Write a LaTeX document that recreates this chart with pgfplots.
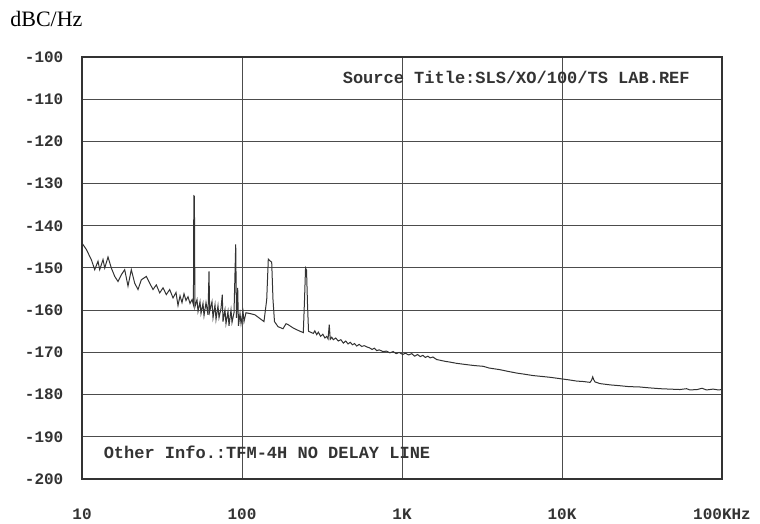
\documentclass[border=0pt]{standalone}
\usepackage{pgfplots}
\pgfplotsset{compat=1.18}
\usepackage{fontspec}
\setmainfont{Liberation Serif}
\newfontfamily\mono{Liberation Mono}
\begin{document}
\begin{tikzpicture}
\begin{axis}[
  scale only axis,
  width=320pt, height=211pt,
  xmode=log,
  xmin=10, xmax=100000,
  ymin=-200, ymax=-100,
  xtick={10,100,1000,10000,100000},
  xticklabels={10,100,1K,10K,100KHz},
  ytick={-200,-190,-180,-170,-160,-150,-140,-130,-120,-110,-100},
  yticklabels={-200,-190,-180,-170,-160,-150,-140,-130,-120,-110,-100},
  xminorticks=false,
  yminorticks=false,
  major tick length=0pt,
  grid=major,
  major grid style={black!70, line width=0.5pt},
  axis line style={black!80, line width=0.6pt},
  tick label style={font=\mono\bfseries\fontsize{8}{9}\selectfont, text=black!80},
  xticklabel style={yshift=-11.5pt},
  yticklabel style={xshift=-5.8pt},
  clip=false,
]
\addplot[black!80, line width=0.5pt] table[row sep=\\] {
x y\\
10 -144.1\\
10.64 -145.6\\
11.43 -148.0\\
12.01 -150.4\\
12.59 -148.4\\
12.90 -150.4\\
13.53 -148.0\\
13.87 -150.0\\
14.54 -147.4\\
15.25 -150.0\\
16.02 -152.0\\
16.79 -153.2\\
17.61 -151.6\\
18.49 -150.4\\
19.39 -154.3\\
20.33 -150.4\\
21.35 -153.6\\
22.39 -155.1\\
23.48 -152.8\\
25.23 -152.0\\
26.49 -153.6\\
27.79 -155.1\\
29.14 -154.0\\
30.59 -155.9\\
32.09 -154.7\\
33.65 -156.3\\
35.33 -155.1\\
37.06 -157.1\\
38.69 -155.8\\
39.81 -158.9\\
40.98 -156.6\\
42.17 -158.2\\
43.40 -156.1\\
44.67 -157.7\\
45.97 -156.8\\
47.32 -158.4\\
48.70 -157.5\\
49.7 -158.7\\
50.0 -132.9\\
50.4 -133.0\\
50.8 -159.2\\
52.34 -157.5\\
53.09 -160.3\\
54.64 -158.0\\
55.43 -160.8\\
57.05 -158.4\\
57.88 -161.3\\
59.57 -158.2\\
61.31 -161.1\\
62.2 -150.8\\
62.8 -160.3\\
64.94 -158.0\\
65.89 -161.8\\
67.81 -158.7\\
68.79 -162.2\\
70.79 -158.9\\
71.83 -161.8\\
73.92 -159.6\\
75.31 -156.3\\
76.07 -162.7\\
78.30 -159.9\\
79.43 -163.2\\
81.75 -160.3\\
82.95 -163.7\\
85.36 -159.9\\
86.60 -162.9\\
89.13 -160.6\\
91.34 -144.4\\
92.37 -161.8\\
93.98 -154.7\\
95.08 -163.7\\
97.16 -160.8\\
98.58 -163.2\\
101.45 -160.3\\
102.92 -162.7\\
105.9 -160.6\\
112.2 -160.8\\
120.6 -161.1\\
129.6 -162.0\\
137.2 -162.7\\
142.7 -157.5\\
146.0 -147.9\\
149.6 -148.3\\
153.3 -148.6\\
156.2 -157.5\\
159.6 -162.7\\
167.9 -163.9\\
180.4 -164.4\\
188.4 -163.2\\
193.9 -163.4\\
208.4 -164.2\\
230.5 -165.0\\
241.6 -165.3\\
245.9 -157.5\\
249.5 -150.0\\
253.1 -150.5\\
256.8 -158.9\\
260.5 -165.0\\
279 -165.5\\
285 -164.9\\
293 -165.8\\
300 -165.2\\
310 -166.2\\
320 -165.7\\
330 -166.6\\
338 -166.2\\
345 -166.8\\
351 -163.4\\
356 -166.9\\
364 -166.4\\
372 -167.0\\
385 -166.6\\
400 -167.3\\
415 -167.0\\
430 -167.8\\
445 -167.3\\
460 -168.0\\
475 -167.6\\
490 -168.2\\
505 -167.9\\
521 -168.5\\
540 -168.1\\
560 -168.6\\
580 -168.4\\
602 -168.7\\
625 -168.9\\
650 -169.3\\
672 -169.0\\
695 -169.6\\
720 -169.4\\
760 -169.8\\
800 -169.7\\
841 -170.1\\
880 -169.8\\
920 -170.3\\
960 -170.0\\
1010 -170.5\\
1050 -170.2\\
1100 -170.6\\
1150 -170.3\\
1200 -170.9\\
1250 -170.5\\
1300 -171.0\\
1350 -170.7\\
1400 -171.2\\
1450 -170.9\\
1500 -171.3\\
1560 -171.1\\
1648 -171.7\\
1750 -171.9\\
1850 -172.1\\
1995 -172.3\\
2200 -172.6\\
2537 -172.9\\
2800 -173.1\\
3222 -173.3\\
3500 -173.7\\
4098 -174.1\\
4600 -174.5\\
5213 -174.9\\
5900 -175.2\\
6616 -175.5\\
7500 -175.7\\
8414 -175.9\\
9200 -176.1\\
10040 -176.3\\
11000 -176.5\\
12360 -176.8\\
13600 -176.9\\
14960 -177.1\\
15300 -176.6\\
15560 -175.8\\
15800 -176.5\\
16080 -177.0\\
17280 -177.4\\
20000 -177.7\\
23040 -177.9\\
26000 -178.1\\
30720 -178.2\\
35000 -178.4\\
40980 -178.6\\
47000 -178.7\\
54640 -178.8\\
60000 -178.6\\
63000 -178.9\\
70000 -178.8\\
75000 -178.5\\
80000 -178.9\\
88000 -178.7\\
95000 -178.9\\
100000 -178.8\\
};
\node[anchor=east, font=\mono\bfseries\fontsize{8.5}{10}\selectfont, text=black!80] at (rel axis cs:0.9605,0.9514) {Source Title:SLS/XO/100/TS LAB.REF};
\node[anchor=west, font=\mono\bfseries\fontsize{8.5}{10}\selectfont, text=black!80] at (rel axis cs:0.023,0.064) {Other Info.:TFM-4H NO DELAY LINE};
\node[anchor=base west, inner sep=0pt, font=\fontsize{11}{13}\selectfont] at (rel axis cs:-0.1125,1.0718) {dBC/Hz};
\coordinate (bbsw) at (rel axis cs:-0.128125,-0.10664);
\coordinate (bbne) at (rel axis cs:1.059375,1.13507);
\end{axis}
\pgfresetboundingbox
\useasboundingbox (bbsw) rectangle (bbne);
\end{tikzpicture}
\end{document}
